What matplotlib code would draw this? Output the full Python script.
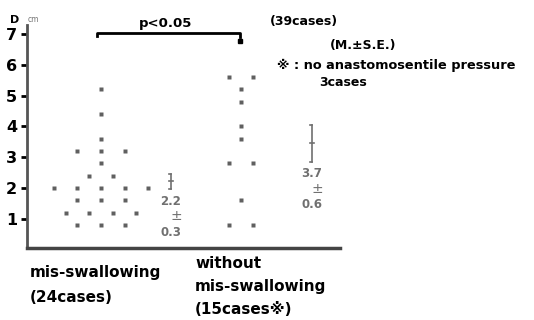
import numpy as np
import matplotlib
matplotlib.use("Agg")
from matplotlib import pyplot as plt

plt.rcParams['font.family'] = ['DejaVu Sans', 'Noto Sans CJK JP']

# mis-swallowing group: values (cm) and column index in the dot stack
g1_vals = [2.0, 2.0, 2.0, 2.0, 2.0, 1.6, 1.6, 1.6, 1.2, 1.2, 1.2, 1.2,
           0.8, 0.8, 0.8, 2.4, 2.4, 2.8, 3.2, 3.2, 3.2, 3.6, 4.4, 5.2]
g1_cols = [-4, -2, 0, 2, 4, -2, 0, 2, -3, -1, 1, 3,
           -2, 0, 2, -1, 1, 0, -2, 0, 2, 0, 0, 0]

# without mis-swallowing group
g2_vals = [5.6, 5.6, 5.2, 4.8, 4.0, 3.6, 2.8, 2.8, 1.6, 0.8, 0.8]
g2_cols = [-1, 1, 0, 0, 0, 0, -1, 1, 0, -1, 1]

# mean +- SE as drawn, and printed labels
bar_pos = [2.22, 3.45]
bar_half = [0.25, 0.6]
mean_txt = ['2.2', '3.7']
se_txt = ['0.3', '0.6']

W, H = 534, 320
fig = plt.figure(figsize=(W / 100, H / 100), dpi=100)

def px(x, y):
    return x / W, 1 - y / H

# axes box in pixels
ax_l, ax_r, ax_t, ax_b = 27, 340, 25, 248
ax = fig.add_axes([ax_l / W, 1 - ax_b / H, (ax_r - ax_l) / W, (ax_b - ax_t) / H])
ax.set_xlim(ax_l, ax_r)
ax.set_ylim((249.8 - ax_b) / 30.83, (249.8 - ax_t) / 30.83)

c1, c2, step = 101, 241, 11.8
dot = dict(marker='s', ms=2.6, ls='none', color='#606060', mec='none')
ax.plot(c1 + np.array(g1_cols) * step, g1_vals, **dot)
ax.plot(c2 + np.array(g2_cols) * step, g2_vals, **dot)

# mean +- SE bars
gray = '#707070'
for xb, m, h, mt, st in zip([171, 312], bar_pos, bar_half, mean_txt, se_txt):
    ax.plot([xb, xb], [m - h, m + h], color=gray, lw=1.2)
    ax.plot([xb - 2.5, xb], [m + h, m + h], color=gray, lw=1.2)
    ax.plot([xb - 2.5, xb], [m - h, m - h], color=gray, lw=1.2)
    ax.plot([xb - 2, xb + 2], [m, m], color=gray, lw=1.2)
    ylab = (249.8 - (m - h) * 30.83) + 12
    fig.text(*px(xb, ylab), mt, ha='center', va='center', fontsize=8.5,
             color=gray, fontweight='bold')
    fig.text(*px(xb + 5, ylab + 15), '±', ha='center', va='center', fontsize=10,
             color=gray)
    fig.text(*px(xb, ylab + 31), st, ha='center', va='center', fontsize=8.5,
             color=gray, fontweight='bold')

# significance bracket
ax.plot([97, 97, 240, 240], [6.95, 7.04, 7.04, 6.9], color='black', lw=2,
        clip_on=False)
ax.plot([240], [6.77], marker='s', ms=3, color='black', clip_on=False)
fig.text(*px(166, 24), 'p<0.05', ha='center', va='center', fontsize=9.5,
         fontweight='bold')

for s in ['top', 'right']:
    ax.spines[s].set_visible(False)
ax.spines['left'].set_linewidth(2)
ax.spines['left'].set_color('#555555')
ax.spines['bottom'].set_linewidth(2.5)
ax.spines['bottom'].set_color('#444444')
ax.set_xticks([])
ax.set_yticks(range(1, 8))
ax.tick_params(axis='y', direction='out', length=4, width=2, pad=3,
               labelsize=11.5)
for t in ax.get_yticklabels():
    t.set_fontweight('bold')

fig.text(*px(15, 20), 'D', ha='center', va='center', fontsize=8,
         fontweight='bold')
fig.text(*px(33, 20), 'cm', ha='center', va='center', fontsize=5.5,
         color='#777777')

# notes
bold = dict(fontweight='bold', va='center', ha='left')
fig.text(*px(270, 22), '(39cases)', fontsize=9, **bold)
fig.text(*px(330, 45), '(M.±S.E.)', fontsize=9, **bold)
fig.text(*px(277, 65), '※ : no anastomosentile pressure', fontsize=9.3, **bold)
fig.text(*px(319, 83), '3cases', fontsize=9, **bold)

# group labels
fig.text(*px(30, 273), 'mis-swallowing', fontsize=11, **bold)
fig.text(*px(30, 297), '(24cases)', fontsize=11, **bold)
fig.text(*px(195, 264), 'without', fontsize=11, **bold)
fig.text(*px(195, 287), 'mis-swallowing', fontsize=11, **bold)
fig.text(*px(195, 310), '(15cases※)', fontsize=11, **bold)

fig.savefig('out.png', dpi=100)
